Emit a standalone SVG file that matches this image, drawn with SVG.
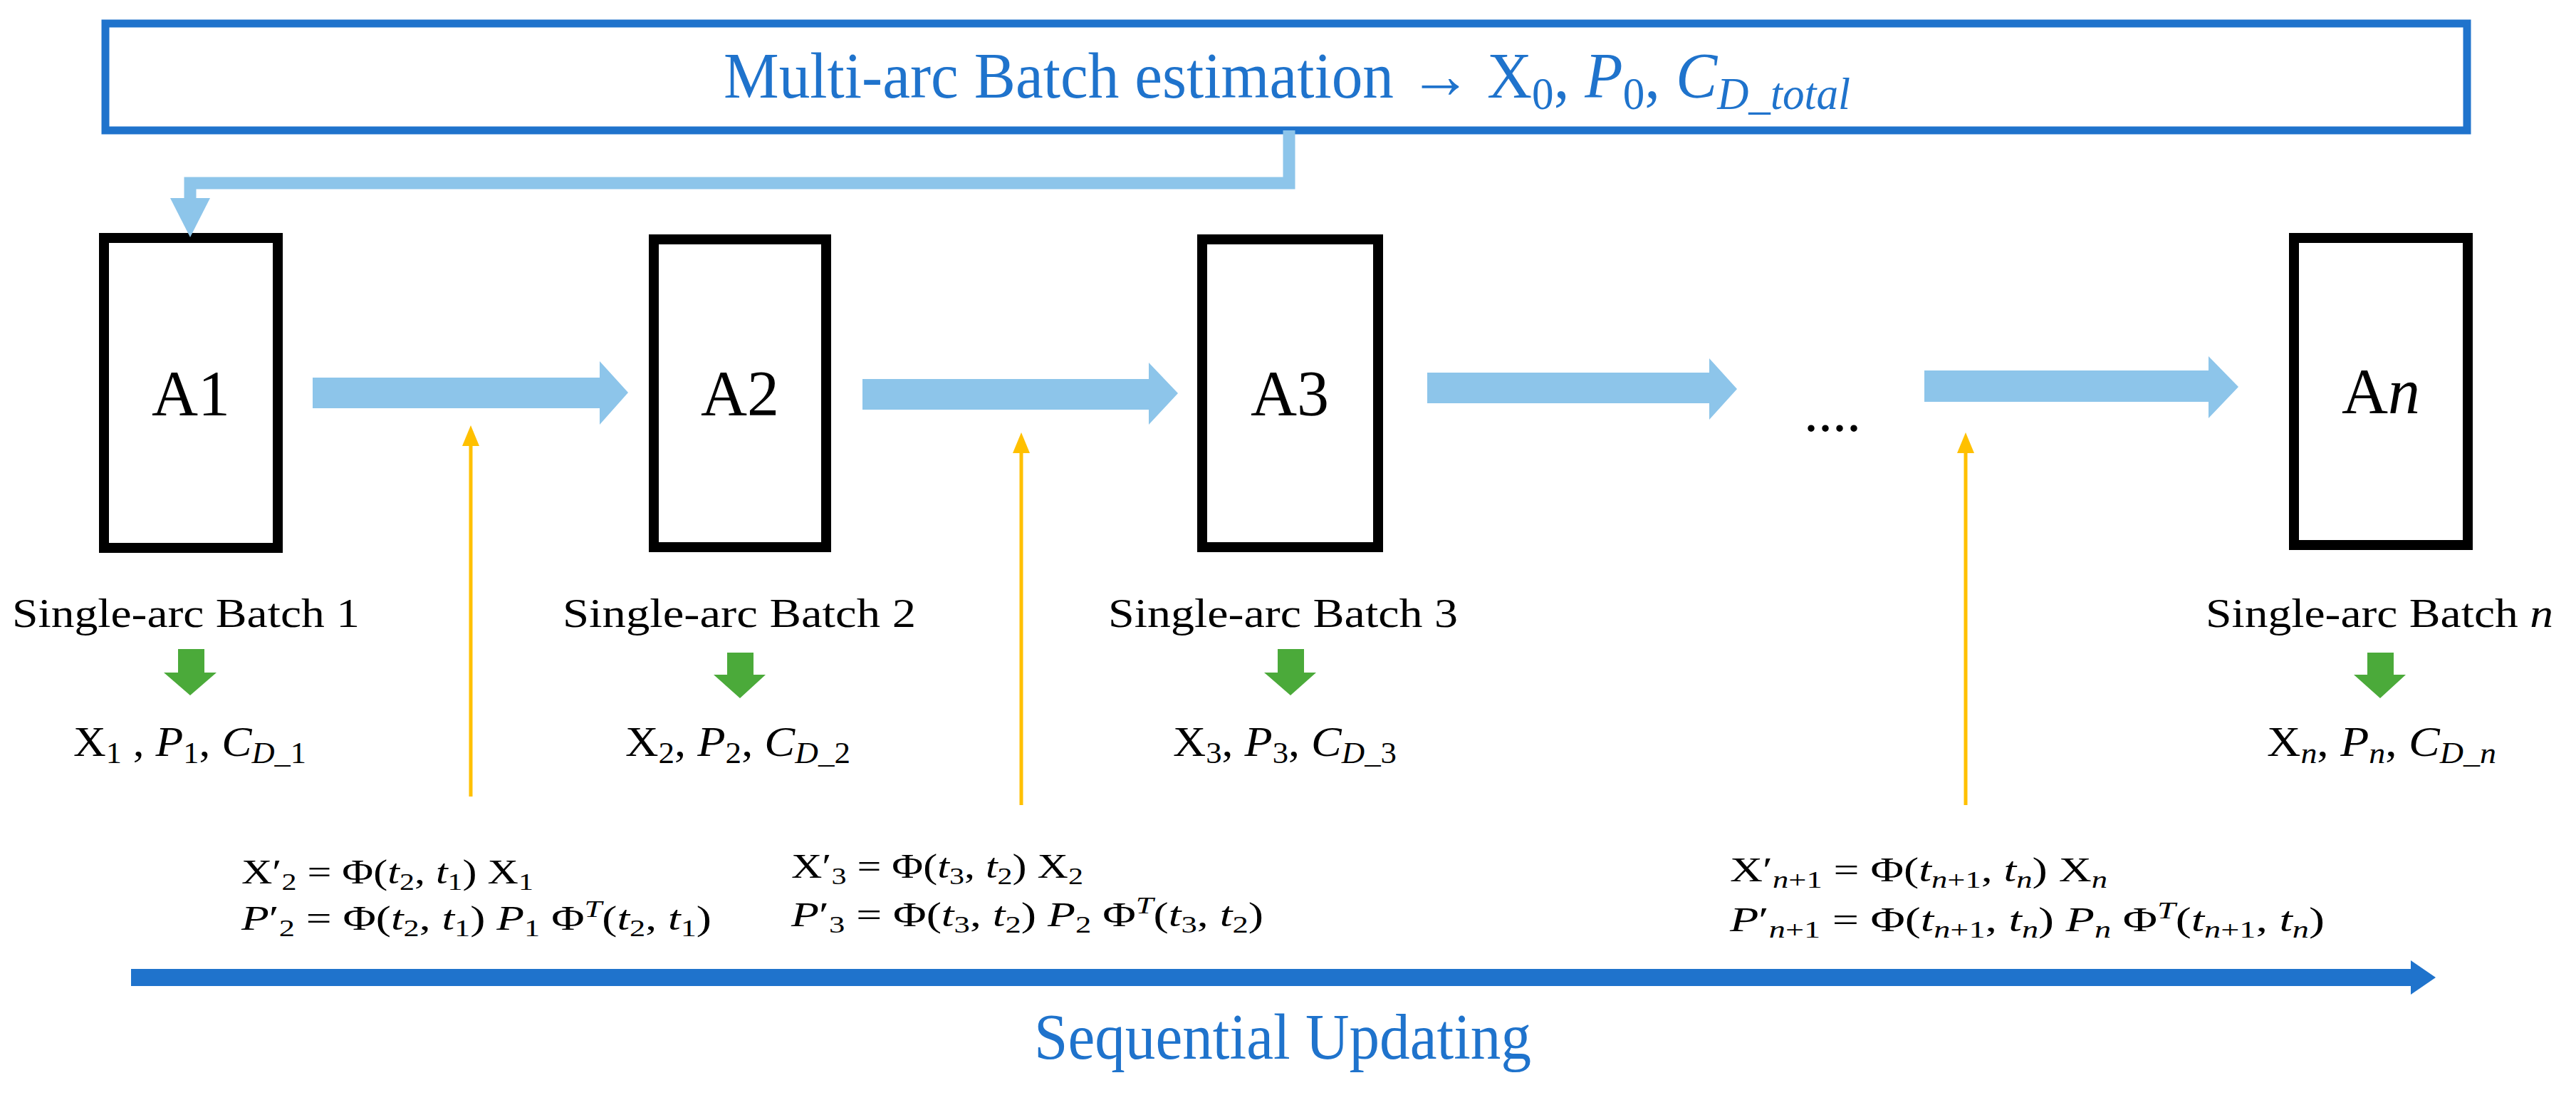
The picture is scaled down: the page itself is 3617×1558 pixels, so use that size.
<svg xmlns="http://www.w3.org/2000/svg" width="3617" height="1558" viewBox="0 0 3617 1558">
<style>
.t{font-family:"Liberation Serif","Times New Roman",serif;fill:#000}
.bl{fill:#1F73CC}
.i{font-style:italic}
.s{font-size:70%}
.box{fill:none;stroke:#000;stroke-width:14}
.lb{fill:#8DC5EA}
.gr{fill:#4BAA3A}
.yl{stroke:#FFC000;stroke-width:5;fill:none}
.yh{fill:#FFC000}
</style>
<rect width="3617" height="1558" fill="#fff"/>
<g id="top">
<rect x="148" y="33" width="3316" height="150" fill="none" stroke="#1F73CC" stroke-width="11"/>
<text class="t bl" x="1016" y="137" font-size="92" textLength="1582" lengthAdjust="spacingAndGlyphs">Multi-arc Batch estimation → X<tspan class="s" dy="16">0</tspan><tspan dy="-16">, </tspan><tspan class="i">P</tspan><tspan class="s" dy="16">0</tspan><tspan dy="-16">, </tspan><tspan class="i">C</tspan><tspan class="s i" dy="16">D_total</tspan></text>
</g>
<g id="A1"><rect class="box" x="146" y="334" width="244" height="435"/><text class="t" x="268" y="583" font-size="90" text-anchor="middle">A1</text></g>
<g id="A2"><rect class="box" x="918" y="336" width="242" height="432"/><text class="t" x="1039" y="583" font-size="90" text-anchor="middle">A2</text></g>
<g id="A3"><rect class="box" x="1688" y="336" width="247" height="432"/><text class="t" x="1811" y="583" font-size="90" text-anchor="middle">A3</text></g>
<g id="An"><rect class="box" x="3221" y="334" width="244" height="431"/><text class="t" x="3343" y="580" font-size="90" text-anchor="middle">A<tspan class="i">n</tspan></text></g>
<g id="connectors">
<polyline points="1810,183 1810,257 267,257 267,282" fill="none" stroke="#8DC5EA" stroke-width="17"/>
<polygon class="lb" points="239,278 295,278 267,333"/>
<polygon class="lb" points="439,530 842,530 842,507 882,551 842,596 842,573 439,573"/>
<polygon class="lb" points="1211,532 1613,532 1613,509 1654,552 1613,596 1613,575 1211,575"/>
<polygon class="lb" points="2004,523 2400,523 2400,503 2439,546 2400,589 2400,566 2004,566"/>
<polygon class="lb" points="2702,520 3101,520 3101,500 3143,543 3101,587 3101,564 2702,564"/>
<line class="yl" x1="661" y1="620" x2="661" y2="1118"/><polygon class="yh" points="649,626 673,626 661,597"/>
<line class="yl" x1="1434" y1="630" x2="1434" y2="1130"/><polygon class="yh" points="1422,636 1446,636 1434,607"/>
<line class="yl" x1="2760" y1="630" x2="2760" y2="1130"/><polygon class="yh" points="2748,636 2772,636 2760,607"/>
<polygon class="gr" points="250,911 287,911 287,944 304,944 267,976 230,944 250,944"/>
<polygon class="gr" points="1021,916 1058,916 1058,947 1075,947 1039,980 1002,947 1021,947"/>
<polygon class="gr" points="1794,911 1831,911 1831,944 1848,944 1812,976 1775,944 1794,944"/>
<polygon class="gr" points="3324,916 3361,916 3361,947 3378,947 3342,980 3305,947 3324,947"/>
<rect x="184" y="1360" width="3205" height="24" fill="#1F73CC"/>
<polygon points="3385,1348 3420,1372 3385,1396" fill="#1F73CC"/>
</g>
<g id="labels">
<text class="t" x="2573" y="605" font-size="80" text-anchor="middle">....</text>
<text class="t" x="17" y="880" font-size="58" textLength="488" lengthAdjust="spacingAndGlyphs">Single-arc Batch 1</text>
<text class="t" x="790" y="880" font-size="58" textLength="496" lengthAdjust="spacingAndGlyphs">Single-arc Batch 2</text>
<text class="t" x="1556" y="880" font-size="58" textLength="491" lengthAdjust="spacingAndGlyphs">Single-arc Batch 3</text>
<text class="t" x="3097" y="880" font-size="58" textLength="488" lengthAdjust="spacingAndGlyphs">Single-arc Batch <tspan class="i">n</tspan></text>
<text class="t" x="103" y="1061" font-size="60" textLength="327" lengthAdjust="spacingAndGlyphs">X<tspan class="s" dy="10">1</tspan><tspan dy="-10"> , </tspan><tspan class="i">P</tspan><tspan class="s" dy="10">1</tspan><tspan dy="-10">, </tspan><tspan class="i">C</tspan><tspan class="s" dy="10"><tspan class="i">D</tspan>_1</tspan></text>
<text class="t" x="878" y="1061" font-size="60" textLength="316" lengthAdjust="spacingAndGlyphs">X<tspan class="s" dy="10">2</tspan><tspan dy="-10">, </tspan><tspan class="i">P</tspan><tspan class="s" dy="10">2</tspan><tspan dy="-10">, </tspan><tspan class="i">C</tspan><tspan class="s" dy="10"><tspan class="i">D</tspan>_2</tspan></text>
<text class="t" x="1647" y="1061" font-size="60" textLength="314" lengthAdjust="spacingAndGlyphs">X<tspan class="s" dy="10">3</tspan><tspan dy="-10">, </tspan><tspan class="i">P</tspan><tspan class="s" dy="10">3</tspan><tspan dy="-10">, </tspan><tspan class="i">C</tspan><tspan class="s" dy="10"><tspan class="i">D</tspan>_3</tspan></text>
<text class="t" x="3183" y="1061" font-size="60" textLength="322" lengthAdjust="spacingAndGlyphs">X<tspan class="s i" dy="10">n</tspan><tspan dy="-10">, </tspan><tspan class="i">P</tspan><tspan class="s i" dy="10">n</tspan><tspan dy="-10">, </tspan><tspan class="i">C</tspan><tspan class="s i" dy="10">D_n</tspan></text>
<text class="t" x="339" y="1240" font-size="48" textLength="410" lengthAdjust="spacingAndGlyphs">X′<tspan class="s" dy="9">2</tspan><tspan dy="-9"> = Φ(</tspan><tspan class="i">t</tspan><tspan class="s" dy="9">2</tspan><tspan dy="-9">, </tspan><tspan class="i">t</tspan><tspan class="s" dy="9">1</tspan><tspan dy="-9">) X</tspan><tspan class="s" dy="9">1</tspan></text>
<text class="t" x="339" y="1305" font-size="48" textLength="660" lengthAdjust="spacingAndGlyphs"><tspan class="i">P</tspan>′<tspan class="s" dy="9">2</tspan><tspan dy="-9"> = Φ(</tspan><tspan class="i">t</tspan><tspan class="s" dy="9">2</tspan><tspan dy="-9">, </tspan><tspan class="i">t</tspan><tspan class="s" dy="9">1</tspan><tspan dy="-9">) </tspan><tspan class="i">P</tspan><tspan class="s" dy="9">1</tspan><tspan dy="-9"> Φ</tspan><tspan class="s i" dy="-18">T</tspan><tspan dy="18">(</tspan><tspan class="i">t</tspan><tspan class="s" dy="9">2</tspan><tspan dy="-9">, </tspan><tspan class="i">t</tspan><tspan class="s" dy="9">1</tspan><tspan dy="-9">)</tspan></text>
<text class="t" x="1111" y="1232" font-size="48" textLength="410" lengthAdjust="spacingAndGlyphs">X′<tspan class="s" dy="9">3</tspan><tspan dy="-9"> = Φ(</tspan><tspan class="i">t</tspan><tspan class="s" dy="9">3</tspan><tspan dy="-9">, </tspan><tspan class="i">t</tspan><tspan class="s" dy="9">2</tspan><tspan dy="-9">) X</tspan><tspan class="s" dy="9">2</tspan></text>
<text class="t" x="1111" y="1300" font-size="48" textLength="663" lengthAdjust="spacingAndGlyphs"><tspan class="i">P</tspan>′<tspan class="s" dy="9">3</tspan><tspan dy="-9"> = Φ(</tspan><tspan class="i">t</tspan><tspan class="s" dy="9">3</tspan><tspan dy="-9">, </tspan><tspan class="i">t</tspan><tspan class="s" dy="9">2</tspan><tspan dy="-9">) </tspan><tspan class="i">P</tspan><tspan class="s" dy="9">2</tspan><tspan dy="-9"> Φ</tspan><tspan class="s i" dy="-18">T</tspan><tspan dy="18">(</tspan><tspan class="i">t</tspan><tspan class="s" dy="9">3</tspan><tspan dy="-9">, </tspan><tspan class="i">t</tspan><tspan class="s" dy="9">2</tspan><tspan dy="-9">)</tspan></text>
<text class="t" x="2429" y="1237" font-size="48" textLength="530" lengthAdjust="spacingAndGlyphs">X′<tspan class="s" dy="9"><tspan class="i">n</tspan>+1</tspan><tspan dy="-9"> = Φ(</tspan><tspan class="i">t</tspan><tspan class="s" dy="9"><tspan class="i">n</tspan>+1</tspan><tspan dy="-9">, </tspan><tspan class="i">t</tspan><tspan class="s i" dy="9">n</tspan><tspan dy="-9">) X</tspan><tspan class="s i" dy="9">n</tspan></text>
<text class="t" x="2429" y="1307" font-size="48" textLength="835" lengthAdjust="spacingAndGlyphs"><tspan class="i">P</tspan>′<tspan class="s" dy="9"><tspan class="i">n</tspan>+1</tspan><tspan dy="-9"> = Φ(</tspan><tspan class="i">t</tspan><tspan class="s" dy="9"><tspan class="i">n</tspan>+1</tspan><tspan dy="-9">, </tspan><tspan class="i">t</tspan><tspan class="s i" dy="9">n</tspan><tspan dy="-9">) </tspan><tspan class="i">P</tspan><tspan class="s i" dy="9">n</tspan><tspan dy="-9"> Φ</tspan><tspan class="s i" dy="-18">T</tspan><tspan dy="18">(</tspan><tspan class="i">t</tspan><tspan class="s" dy="9"><tspan class="i">n</tspan>+1</tspan><tspan dy="-9">, </tspan><tspan class="i">t</tspan><tspan class="s i" dy="9">n</tspan><tspan dy="-9">)</tspan></text>
<text class="t bl" x="1452" y="1486" font-size="90" textLength="698" lengthAdjust="spacingAndGlyphs">Sequential Updating</text>
</g>
</svg>
